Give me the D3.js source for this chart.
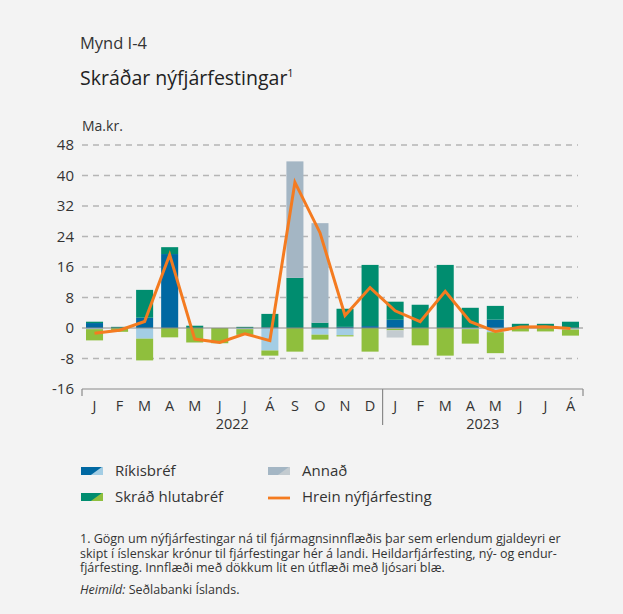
<!DOCTYPE html>
<html>
<head>
<meta charset="utf-8">
<script src="https://cdn.jsdelivr.net/npm/d3@7/dist/d3.min.js"></script>
<style>
  html, body { margin: 0; padding: 0; background: #f3f3f3; }
  svg { display: block; font-family: "Open Sans", "Noto Sans", sans-serif; }
</style>
</head>
<body>
<svg id="chart" width="623" height="614"></svg>
<script>
// ---- Data ----
const months = ["J","F","M","A","M","J","J","Á","S","O","N","D","J","F","M","A","M","J","J","Á"];
const years = [{label: "2022", from: 0, to: 11}, {label: "2023", from: 12, to: 19}];
const yTicks = [-16, -8, 0, 8, 16, 24, 32, 40, 48];

const rikisInn = [1.3, 0, 2.7, 19.4, 0, 0, 0, 0.2, 0, 0, 0.3, 0.5, 2.15, 0, 0, 0, 2.2, 0, 0, 0];
const rikisUt  = [-0.3, 0, -2.8, 0, 0, 0, -0.3, -5.9, 0, -1.75, -1.9, 0, -0.2, 0, 0, -0.3, -1.1, 0, 0, -0.4];
const hlutInn  = [0.35, 0.3, 7.3, 1.8, 0.6, 0, 0.3, 3.5, 13.15, 1.4, 4.75, 16.05, 4.75, 6.1, 16.55, 5.3, 3.6, 1.1, 1.1, 1.65];
const hlutUt   = [-2.95, -1.0, -5.7, -2.45, -3.8, -4.0, -1.5, -1.35, -6.2, -1.3, -0.3, -6.2, -0.4, -4.55, -7.25, -3.8, -5.5, -0.9, -0.9, -1.6];
const annadInn = [0, 0, 0, 0, 0, 0, 0, 0, 30.55, 26.1, 0, 0, 0, 0, 0, 0, 0, 0, 0, 0];
const annadUt  = [0, 0, 0, 0, 0, 0, 0, 0, 0, 0, 0, 0, -1.9, 0, 0, 0, 0, 0, 0, 0];
const net      = [-1.4, -0.6, 1.7, 19.2, -2.9, -3.8, -1.5, -3.3, 38.2, 25.0, 3.3, 10.6, 4.5, 1.65, 9.6, 1.65, -0.9, 0.25, 0.3, -0.15];

const colors = {
  rikisInn: "#0068a2", rikisUt: "#a3cde4",
  hlutInn: "#008d6f", hlutUt: "#8fbf3d",
  annadInn: "#a4b6c4", annadUt: "#c3cbd0",
  net: "#f47b20"
};

const svg = d3.select("#chart");
svg.append("rect").attr("width", 623).attr("height", 614).attr("fill", "#f3f3f3");

// ---- Scales ----
const x = d3.scaleBand().domain(d3.range(months.length)).range([82, 583]).paddingInner(0.32).paddingOuter(0.16);
const y = d3.scaleLinear().domain([-16, 48]).range([389, 145]);

// ---- Titles ----
svg.append("text").attr("x", 80).attr("y", 49).attr("font-size", 16.5).attr("fill", "#333").text("Mynd I-4");
const t = svg.append("text").attr("x", 80).attr("y", 85).attr("font-size", 19.5).attr("fill", "#222").text("Skráðar nýfjárfestingar");
t.append("tspan").attr("font-size", 11).attr("dy", -8).text("1");
svg.append("text").attr("x", 82).attr("y", 131).attr("font-size", 14).attr("fill", "#333").text("Ma.kr.");

// ---- Grid ----
const grid = svg.append("g");
yTicks.filter(d => d !== 0 && d !== -16).forEach(d => {
  grid.append("line").attr("x1", 82).attr("x2", 578).attr("y1", y(d)).attr("y2", y(d))
    .attr("stroke", "#b5b5b5").attr("stroke-width", 1.5).attr("stroke-dasharray", "6,5");
});

// ---- Y axis labels ----
const yAxis = d3.axisLeft(y).tickValues(yTicks).tickSize(0).tickPadding(0).tickFormat(d => String(d));
const ya = svg.append("g").attr("transform", "translate(74,0)").call(yAxis);
ya.select(".domain").remove();
ya.selectAll("text").attr("font-size", 15).attr("fill", "#333").attr("font-family", "Open Sans, sans-serif");

// ---- Bars ----
function stackBars(seriesList) {
  const g = svg.append("g");
  months.forEach((m, i) => {
    let posBase = 0, negBase = 0;
    seriesList.forEach(s => {
      const v = s.values[i];
      if (v === 0) return;
      let y0, y1;
      if (v > 0) { y0 = posBase; y1 = posBase + v; posBase = y1; }
      else { y0 = negBase; y1 = negBase + v; negBase = y1; }
      g.append("rect")
        .attr("x", x(i)).attr("width", x.bandwidth())
        .attr("y", y(Math.max(y0, y1))).attr("height", Math.abs(y(y0) - y(y1)))
        .attr("fill", s.color);
    });
  });
}
stackBars([
  {values: rikisInn, color: colors.rikisInn},
  {values: hlutInn, color: colors.hlutInn},
  {values: annadInn, color: colors.annadInn},
  {values: rikisUt, color: colors.rikisUt},
  {values: hlutUt, color: colors.hlutUt},
  {values: annadUt, color: colors.annadUt}
]);

// zero line
svg.append("line").attr("x1", 82).attr("x2", 583).attr("y1", y(0)).attr("y2", y(0))
  .attr("stroke", "#8a8a8a").attr("stroke-width", 1.2);

// ---- Net line ----
const line = d3.line().x((d, i) => x(i) + x.bandwidth() / 2).y(d => y(d));
svg.append("path").datum(net).attr("d", line).attr("fill", "none")
  .attr("stroke", colors.net).attr("stroke-width", 3).attr("stroke-linejoin", "miter");

// ---- X axis ----
const axisCol = "#8a8a8a";
svg.append("line").attr("x1", 82).attr("x2", 583).attr("y1", y(-16)).attr("y2", y(-16)).attr("stroke", axisCol).attr("stroke-width", 1.2);
svg.append("line").attr("x1", 82).attr("x2", 82).attr("y1", y(-16)).attr("y2", y(-16) + 7).attr("stroke", axisCol).attr("stroke-width", 1.2);
svg.append("line").attr("x1", 583).attr("x2", 583).attr("y1", y(-16)).attr("y2", y(-16) + 7).attr("stroke", axisCol).attr("stroke-width", 1.2);
const sepX = (x(11) + x.bandwidth() + x(12)) / 2;
svg.append("line").attr("x1", sepX).attr("x2", sepX).attr("y1", y(-16)).attr("y2", y(-16) + 36).attr("stroke", axisCol).attr("stroke-width", 1.2);

const xl = svg.append("g");
months.forEach((m, i) => {
  xl.append("text").attr("x", x(i) + x.bandwidth() / 2).attr("y", 411)
    .attr("text-anchor", "middle").attr("font-size", 14.5).attr("fill", "#333").text(m);
});
years.forEach(yr => {
  const cx = (x(yr.from) + x(yr.to) + x.bandwidth()) / 2;
  xl.append("text").attr("x", cx).attr("y", 429).attr("text-anchor", "middle")
    .attr("font-size", 14.5).attr("fill", "#333").text(yr.label);
});

// ---- Legend ----
const legendItems = [
  {label: "Ríkisbréf", type: "sw", dark: colors.rikisInn, light: colors.rikisUt, x: 81, y: 471},
  {label: "Annað", type: "sw", dark: colors.annadInn, light: colors.annadUt, x: 268, y: 471},
  {label: "Skráð hlutabréf", type: "sw", dark: colors.hlutInn, light: colors.hlutUt, x: 81, y: 497},
  {label: "Hrein nýfjárfesting", type: "line", dark: colors.net, x: 268, y: 497}
];
const lg = svg.append("g");
legendItems.forEach(it => {
  const w = 22, h = 8;
  if (it.type === "sw") {
    lg.append("rect").attr("x", it.x).attr("y", it.y - h / 2).attr("width", w).attr("height", h).attr("fill", it.light);
    lg.append("polygon").attr("points",
      [[it.x, it.y - h/2], [it.x + w * 0.95, it.y - h/2], [it.x + w * 0.45, it.y + h/2], [it.x, it.y + h/2]].map(p => p.join(",")).join(" "))
      .attr("fill", it.dark);
  } else {
    lg.append("line").attr("x1", it.x).attr("x2", it.x + w).attr("y1", it.y + 1).attr("y2", it.y + 1)
      .attr("stroke", it.dark).attr("stroke-width", 2.8);
  }
  lg.append("text").attr("x", it.x + 34).attr("y", it.y + 5).attr("font-size", 15).attr("fill", "#333").text(it.label);
});

// ---- Footnote (one paragraph) ----
const notes = [
  "1. Gögn um nýfjárfestingar ná til fjármagnsinnflæðis þar sem erlendum gjaldeyri er",
  "skipt í íslenskar krónur til fjárfestingar hér á landi. Heildarfjárfesting, ný- og endur-",
  "fjárfesting. Innflæði með dökkum lit en útflæði með ljósari blæ."
];
const fn = svg.append("text").attr("x", 80).attr("y", 543).attr("font-size", 12.5).attr("fill", "#333");
notes.forEach((s, i) => {
  fn.append("tspan").attr("x", 80).attr("dy", i === 0 ? 0 : 14.5).text(s);
});
fn.append("tspan").attr("x", 80).attr("dy", 22).attr("font-style", "italic").text("Heimild:");
fn.append("tspan").text(" Seðlabanki Íslands.");
</script>
</body>
</html>
